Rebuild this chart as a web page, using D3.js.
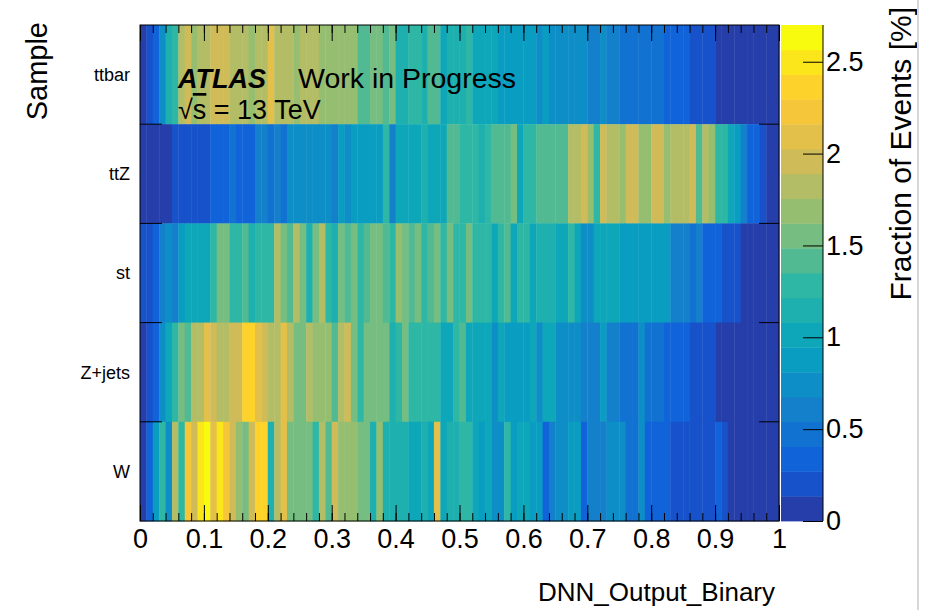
<!DOCTYPE html>
<html>
<head>
<meta charset="utf-8">
<script src="https://cdn.jsdelivr.net/npm/d3@7"></script>
<style>
  body { margin: 0; background: #fff; }
  text { font-family: "Liberation Sans", Arial, sans-serif; fill: #000; }
</style>
</head>
<body>
<svg id="chart" width="926" height="610"></svg>
<script>
// samples from top to bottom
var samples = ["ttbar", "ttZ", "st", "Z+jets", "W"];

// x binning: 100 bins from 0 to 1
var nBins = 100;
var xTicks = [0, 0.1, 0.2, 0.3, 0.4, 0.5, 0.6, 0.7, 0.8, 0.9, 1];
var zTicks = [0, 0.5, 1, 1.5, 2, 2.5];
var zMax = 2.7;
var nLevels = 20;

// fraction of events [%] per bin
var ttbarVals = [
  0.08, 0.2, 0.35, 0.75, 1.1, 1.25, 1.8, 1.95, 1.7, 1.82,
  1.82, 1.97, 2.0, 1.97, 1.82, 1.82, 1.8, 1.7, 1.82, 1.8,
  2.05, 1.82, 1.8, 1.82, 1.7, 1.8, 1.82, 1.8, 1.68, 1.7,
  1.7, 1.68, 1.7, 1.68, 1.42, 1.4, 1.58, 1.5, 1.48, 1.58,
  1.15, 1.2, 1.3, 1.25, 1.2, 1.48, 1.45, 1.0, 1.1, 1.15,
  1.15, 1.3, 1.05, 1.0, 1.0, 1.0, 0.9, 0.88, 0.9, 0.88,
  0.88, 0.82, 0.8, 0.82, 0.78, 0.72, 0.75, 0.72, 0.74, 0.7,
  0.6, 0.62, 0.68, 0.6, 0.58, 0.52, 0.5, 0.48, 0.5, 0.5,
  0.45, 0.44, 0.38, 0.36, 0.38, 0.35, 0.22, 0.22, 0.2, 0.2,
  0.05, 0.05, 0.05, 0.05, 0.05, 0.05, 0.05, 0.05, 0.05, 0.05
];
var ttzVals = [
  0.08, 0.08, 0.08, 0.08, 0.08, 0.2, 0.2, 0.2, 0.2, 0.2,
  0.22, 0.35, 0.33, 0.35, 0.45, 0.32, 0.3, 0.33, 0.6, 0.58,
  0.5, 0.6, 0.45, 0.72, 0.7, 0.75, 0.72, 0.75, 0.7, 0.73,
  0.6, 0.85, 0.75, 0.88, 0.9, 0.85, 0.88, 0.85, 1.3, 0.65,
  0.95, 1.0, 0.95, 0.98, 1.1, 1.0, 0.95, 0.98, 1.4, 1.45,
  1.3, 1.25, 1.28, 1.1, 1.3, 1.45, 1.42, 1.45, 1.55, 1.05,
  1.25, 1.3, 1.42, 1.48, 1.45, 1.48, 1.4, 1.82, 1.8, 1.97,
  1.7, 1.3, 1.97, 1.82, 1.8, 1.7, 1.97, 2.0, 1.7, 1.72,
  2.0, 1.97, 1.7, 1.82, 1.8, 1.82, 1.97, 1.48, 1.82, 1.7,
  1.3, 1.25, 1.0, 0.85, 0.6, 0.4, 0.28, 0.18, 0.06, 0.06
];
var stVals = [
  0.2, 0.2, 0.38, 0.6, 0.72, 0.65, 0.82, 0.95, 0.98, 1.0,
  0.98, 1.28, 1.5, 1.5, 1.3, 1.25, 1.42, 1.15, 1.3, 1.25,
  1.28, 1.8, 1.5, 1.48, 1.8, 1.5, 1.15, 1.5, 1.85, 1.3,
  1.15, 1.5, 1.48, 1.5, 1.28, 1.48, 1.5, 1.58, 1.42, 1.3,
  1.68, 1.5, 1.48, 1.5, 1.3, 1.48, 1.58, 1.3, 1.58, 1.28,
  1.3, 1.5, 1.3, 1.28, 1.3, 1.0, 1.3, 1.38, 1.0, 1.28,
  1.25, 1.0, 1.1, 1.12, 1.1, 0.98, 0.95, 1.28, 0.98, 0.72,
  0.7, 0.98, 0.95, 0.98, 0.95, 0.85, 0.88, 0.85, 0.92, 0.85,
  0.88, 0.85, 0.82, 0.6, 0.62, 0.58, 0.42, 0.6, 0.35, 0.32,
  0.35, 0.22, 0.2, 0.2, 0.06, 0.06, 0.06, 0.06, 0.06, 0.06
];
var zjetsVals = [
  0.08, 0.25, 0.38, 0.72, 0.98, 1.3, 1.5, 1.48, 1.82, 1.82,
  2.1, 1.95, 1.82, 1.82, 1.97, 2.0, 2.35, 2.38, 2.1, 1.95,
  1.8, 1.8, 2.1, 1.78, 1.55, 1.55, 1.82, 1.7, 1.7, 1.68,
  1.42, 1.78, 1.9, 1.55, 1.3, 1.55, 1.55, 1.5, 1.6, 1.15,
  1.3, 1.5, 1.28, 1.3, 1.25, 1.3, 1.28, 0.98, 0.95, 1.3,
  1.4, 1.0, 0.98, 1.0, 0.95, 0.72, 0.98, 0.88, 0.85, 0.85,
  0.82, 0.98, 0.7, 0.95, 0.98, 0.72, 0.7, 0.72, 0.7, 0.6,
  0.62, 0.6, 0.85, 0.6, 0.58, 0.5, 0.48, 0.5, 0.7, 0.48,
  0.5, 0.47, 0.38, 0.35, 0.38, 0.33, 0.22, 0.2, 0.22, 0.2,
  0.06, 0.06, 0.06, 0.06, 0.06, 0.06, 0.06, 0.06, 0.06, 0.06
];
var wVals = [
  0.08, 0.35, 0.88, 1.3, 0.72, 1.8, 1.28, 2.25, 1.95, 2.5,
  2.62, 2.15, 2.5, 2.25, 1.9, 1.7, 1.55, 1.9, 2.3, 2.3,
  1.15, 1.78, 2.1, 1.55, 1.55, 1.58, 1.55, 1.3, 1.82, 1.42,
  1.97, 1.7, 1.72, 1.7, 1.55, 1.55, 1.15, 1.7, 1.15, 1.12,
  1.15, 1.12, 1.0, 0.98, 1.15, 1.0, 2.05, 0.98, 1.15, 1.12,
  1.3, 1.28, 1.0, 0.88, 1.0, 0.72, 0.7, 1.3, 0.88, 0.98,
  1.0, 0.88, 0.85, 0.35, 0.6, 0.72, 0.7, 0.9, 0.88, 0.35,
  0.6, 0.58, 0.6, 0.72, 0.7, 0.72, 0.5, 0.5, 0.72, 0.35,
  0.38, 0.35, 0.35, 0.22, 0.2, 0.18, 0.2, 0.18, 0.2, 0.18,
  0.35, 0.22, 0.06, 0.06, 0.06, 0.06, 0.06, 0.06, 0.06, 0.06
];
var sampleVals = {"ttbar": ttbarVals, "ttZ": ttzVals, "st": stVals, "Z+jets": zjetsVals, "W": wVals};

var margin = {left: 140, top: 25, right: 147, bottom: 89};
var width = 926, height = 610;
var x0 = margin.left, x1 = width - margin.right;   // 140 .. 779
var y0 = margin.top, y1 = height - margin.bottom;  // 25 .. 521

var svg = d3.select("#chart");

// ROOT kBird palette
var birdStops = [0, 0.125, 0.25, 0.375, 0.5, 0.625, 0.75, 0.875, 1];
var birdR = [0.2082, 0.0592, 0.0780, 0.0232, 0.1802, 0.5301, 0.8186, 0.9956, 0.9764];
var birdG = [0.1664, 0.3599, 0.5041, 0.6419, 0.7178, 0.7492, 0.7328, 0.7862, 0.9832];
var birdB = [0.5293, 0.8630, 0.8000, 0.7488, 0.6425, 0.4662, 0.3499, 0.1968, 0.0539];
var bird = d3.scaleLinear()
  .domain(birdStops)
  .range(birdStops.map(function(s, i) { return d3.rgb(birdR[i] * 255, birdG[i] * 255, birdB[i] * 255); }))
  .interpolate(d3.interpolateRgb);
var levelColors = d3.range(nLevels).map(function(i) { return bird((i + 0.99) / nLevels); });
var color = d3.scaleQuantize().domain([0, zMax]).range(levelColors);

var x = d3.scaleLinear().domain([0, 1]).range([x0, x1]);
var y = d3.scaleBand().domain(samples).range([y0, y1]);
var z = d3.scaleLinear().domain([0, zMax]).range([y1, y0]);

// cells
var cells = [];
samples.forEach(function(s) {
  sampleVals[s].forEach(function(v, i) {
    cells.push({sample: s, lo: i / nBins, hi: (i + 1) / nBins, value: v});
  });
});

svg.append("g").selectAll("rect")
  .data(cells)
  .enter().append("rect")
  .attr("x", function(d) { return x(d.lo); })
  .attr("y", function(d) { return y(d.sample); })
  .attr("width", function(d) { return x(d.hi) - x(d.lo) + 0.4; })
  .attr("height", y.bandwidth() + 0.4)
  .attr("fill", function(d) { return color(d.value); });

// frame
svg.append("rect")
  .attr("x", x0).attr("y", y0)
  .attr("width", x1 - x0).attr("height", y1 - y0)
  .attr("fill", "none").attr("stroke", "#000").attr("stroke-width", 1);

// x axes: major + minor ticks, bottom and top
var minorTicks = d3.range(0, 51).map(function(i) { return i / 50; });
function noDomain(g) { g.select(".domain").remove(); }

svg.append("g")
  .attr("transform", "translate(0," + y1 + ")")
  .call(d3.axisBottom(x).tickValues(minorTicks).tickSize(-8).tickFormat(""))
  .call(noDomain);
var xAxisG = svg.append("g")
  .attr("transform", "translate(0," + y1 + ")")
  .call(d3.axisBottom(x).tickValues(xTicks).tickSize(-16).tickPadding(8)
    .tickFormat(function(d) { return String(+d.toFixed(1)); }))
  .call(noDomain);
xAxisG.selectAll("text").attr("font-size", 27).attr("font-family", "Liberation Sans, Arial, sans-serif");
svg.append("g")
  .attr("transform", "translate(0," + y0 + ")")
  .call(d3.axisTop(x).tickValues(minorTicks).tickSize(-8).tickFormat(""))
  .call(noDomain);
svg.append("g")
  .attr("transform", "translate(0," + y0 + ")")
  .call(d3.axisTop(x).tickValues(xTicks).tickSize(-16).tickFormat(""))
  .call(noDomain);

// y axis: ticks at row boundaries, left and right
var rowEdges = samples.slice(1).map(function(s) { return y(s); });
svg.append("g").selectAll("line")
  .data(rowEdges).enter().append("line")
  .attr("x1", x0).attr("x2", x0 + 22)
  .attr("y1", function(d) { return d; }).attr("y2", function(d) { return d; })
  .attr("stroke", "#000");
svg.append("g").selectAll("line")
  .data(rowEdges).enter().append("line")
  .attr("x1", x1 - 20).attr("x2", x1)
  .attr("y1", function(d) { return d; }).attr("y2", function(d) { return d; })
  .attr("stroke", "#000");

svg.append("g").selectAll("text")
  .data(samples).enter().append("text")
  .attr("x", x0 - 10)
  .attr("y", function(s) { return y(s) + y.bandwidth() / 2; })
  .attr("dy", "0.35em")
  .attr("text-anchor", "end")
  .attr("font-size", 18)
  .text(function(s) { return s; });

// colour bar
var cbX0 = 781, cbX1 = 823;
svg.append("g").selectAll("rect")
  .data(levelColors).enter().append("rect")
  .attr("x", cbX0)
  .attr("y", function(c, i) { return z((i + 1) * zMax / nLevels); })
  .attr("width", cbX1 - cbX0)
  .attr("height", function(c, i) { return z(i * zMax / nLevels) - z((i + 1) * zMax / nLevels) + 0.4; })
  .attr("fill", function(c) { return c; });

var zAxisG = svg.append("g")
  .attr("transform", "translate(" + cbX1 + ",0)")
  .call(d3.axisRight(z).tickValues(zTicks).tickSize(-20).tickPadding(3)
    .tickFormat(function(d) { return String(d); }));
zAxisG.select(".domain").attr("stroke", "#000").attr("d", "M0," + y0 + "V" + y1);
zAxisG.selectAll("text").attr("font-size", 27).attr("font-family", "Liberation Sans, Arial, sans-serif");

// titles
svg.append("text")
  .attr("x", 775).attr("y", 601)
  .attr("text-anchor", "end")
  .attr("font-size", 26)
  .text("DNN_Output_Binary");

svg.append("text")
  .attr("transform", "translate(47,22) rotate(-90)")
  .attr("text-anchor", "end")
  .attr("font-size", 29)
  .text("Sample");

svg.append("text")
  .attr("transform", "translate(911,7) rotate(-90)")
  .attr("text-anchor", "end")
  .attr("font-size", 30)
  .text("Fraction of Events [%]");

// ATLAS label
svg.append("text")
  .attr("x", 178).attr("y", 88)
  .attr("font-size", 27)
  .attr("font-weight", "bold").attr("font-style", "italic")
  .text("ATLAS");
svg.append("text")
  .attr("x", 298).attr("y", 88)
  .attr("font-size", 28.5)
  .text("Work in Progress");
var energy = svg.append("text")
  .attr("x", 178).attr("y", 119)
  .attr("font-size", 27);
energy.append("tspan").text("√");
energy.append("tspan").attr("text-decoration", "overline").text("s");
energy.append("tspan").text(" = 13 TeV");

// canvas edge line at the right
svg.append("line")
  .attr("x1", 918).attr("x2", 918).attr("y1", 0).attr("y2", height)
  .attr("stroke", "#d8d8d8").attr("stroke-width", 2);
</script>
</body>
</html>
